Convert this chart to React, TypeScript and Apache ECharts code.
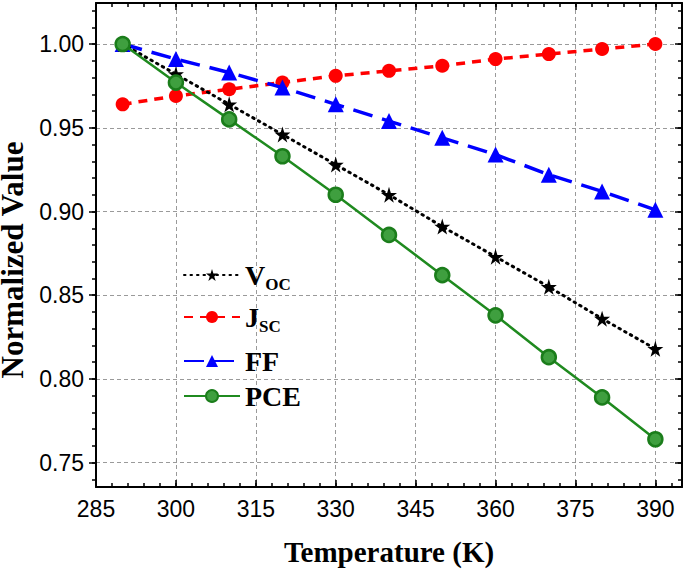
import React, { useEffect, useRef } from "react";
import * as echarts from "echarts";

const temperatures = [290, 300, 310, 320, 330, 340, 350, 360, 370, 380, 390];
const vocValues = [1.0, 0.982, 0.964, 0.946, 0.928, 0.91, 0.891, 0.873, 0.855, 0.836, 0.818];
const jscValues = [0.964, 0.969, 0.973, 0.977, 0.981, 0.984, 0.987, 0.991, 0.994, 0.997, 1.0];
const ffValues = [1.0, 0.991, 0.983, 0.974, 0.964, 0.954, 0.944, 0.934, 0.922, 0.912, 0.901];
const pceValues = [1.0, 0.977, 0.955, 0.933, 0.91, 0.886, 0.862, 0.838, 0.813, 0.789, 0.764];

const xMajorTicks = [285, 300, 315, 330, 345, 360, 375, 390];
const xMinorTicks = [285, 288, 291, 294, 297, 300, 303, 306, 309, 312, 315, 318, 321, 324, 327, 330, 333, 336, 339, 342, 345, 348, 351, 354, 357, 360, 363, 366, 369, 372, 375, 378, 381, 384, 387, 390, 393];
const yMajorTicks = [0.75, 0.8, 0.85, 0.9, 0.95, 1.0];
const yMinorTicks = [0.74, 0.75, 0.76, 0.77, 0.78, 0.79, 0.8, 0.81, 0.82, 0.83, 0.84, 0.85, 0.86, 0.87, 0.88, 0.89, 0.9, 0.91, 0.92, 0.93, 0.94, 0.95, 0.96, 0.97, 0.98, 0.99, 1.0, 1.01, 1.02];

const X_MIN = 285;
const X_MAX = 395;
const Y_MIN = 0.7355;
const Y_MAX = 1.0245;

const STAR = "path://M50,0 L61,35 L98,35 L68,57 L79,91 L50,70 L21,91 L32,57 L2,35 L39,35 Z";
const SERIF = "'Liberation Serif', 'Times New Roman', serif";
const SANS = "'Liberation Sans', Arial, sans-serif";

function toPairs(vals: number[]) {
  return temperatures.map((t, i) => [t, vals[i]]);
}

export default function App() {
  const ref = useRef<HTMLDivElement>(null);
  useEffect(() => {
    if (!ref.current) return;
    const chart = echarts.init(ref.current, null, { renderer: "svg" });

    const richText = {
      m: { fontSize: 28, fontWeight: "bold", fontFamily: SERIF, color: "#000" },
      s: { fontSize: 17, fontWeight: "bold", fontFamily: SERIF, color: "#000", padding: [18, 0, 0, 0] },
    };

    const mkLegend = (name: string, top: number, formatter?: string) => ({
      data: [name],
      left: 178,
      top,
      orient: "vertical",
      itemWidth: 56,
      itemHeight: 15,
      selectedMode: false,
      formatter: formatter,
      textStyle: { fontSize: 28, fontWeight: "bold", fontFamily: SERIF, color: "#000", rich: richText },
    });

    const axisCommonX = { type: "value", min: X_MIN, max: X_MAX, gridIndex: 0 };
    const axisCommonY = { type: "value", min: Y_MIN, max: Y_MAX, gridIndex: 0 };
    const lineBlack = { show: true, lineStyle: { color: "#000", width: 2 } };

    const option: any = {
      animation: false,
      backgroundColor: "#fff",
      grid: { left: 96, right: 3, top: 3, bottom: 85, containLabel: false, outerBoundsMode: "none" },
      legend: [
        mkLegend("VOC", 256, "{m|V}{s|OC}"),
        mkLegend("JSC", 298, "{m|J}{s|SC}"),
        mkLegend("FF", 342),
        mkLegend("PCE", 377),
      ],
      xAxis: [
        {
          ...axisCommonX,
          position: "bottom",
          name: "Temperature (K)",
          nameLocation: "middle",
          nameGap: 50,
          nameTextStyle: { fontSize: 29, fontWeight: "bold", fontFamily: SERIF, color: "#000" },
          axisLine: lineBlack,
          axisTick: { show: true, inside: true, length: 7, customValues: xMajorTicks, lineStyle: { color: "#000", width: 1.5 } },
          axisLabel: { customValues: xMajorTicks, fontSize: 23, fontFamily: SANS, color: "#000", margin: 10 },
          splitLine: { show: true, lineStyle: { color: "#9a9a9a", type: [4, 3], width: 1 } },
        },
        {
          ...axisCommonX,
          position: "bottom",
          axisLine: { show: false },
          axisTick: { show: true, inside: true, length: 4, customValues: xMinorTicks, lineStyle: { color: "#000", width: 1.5 } },
          axisLabel: { show: false },
          splitLine: { show: false },
        },
        {
          ...axisCommonX,
          position: "top",
          axisLine: lineBlack,
          axisTick: { show: true, inside: true, length: 7, customValues: xMajorTicks, lineStyle: { color: "#000", width: 1.5 } },
          axisLabel: { show: false },
          splitLine: { show: false },
        },
        {
          ...axisCommonX,
          position: "top",
          axisLine: { show: false },
          axisTick: { show: true, inside: true, length: 4, customValues: xMinorTicks, lineStyle: { color: "#000", width: 1.5 } },
          axisLabel: { show: false },
          splitLine: { show: false },
        },
      ],
      yAxis: [
        {
          ...axisCommonY,
          position: "left",
          name: "Normalized Value",
          nameLocation: "middle",
          nameRotate: 90,
          nameGap: 64,
          nameTextStyle: { fontSize: 31, fontWeight: "bold", fontFamily: SERIF, color: "#000", padding: [0, 30, 0, 0] },
          axisLine: lineBlack,
          axisTick: { show: true, inside: false, length: 7, customValues: yMajorTicks, lineStyle: { color: "#000", width: 1.5 } },
          axisLabel: {
            customValues: yMajorTicks,
            fontSize: 23,
            fontFamily: SANS,
            color: "#000",
            margin: 12,
            formatter: (v: number) => v.toFixed(2),
          },
          splitLine: { show: true, lineStyle: { color: "#9a9a9a", type: [4, 3], width: 1 } },
        },
        {
          ...axisCommonY,
          position: "left",
          axisLine: { show: false },
          axisTick: { show: true, inside: false, length: 4, customValues: yMinorTicks, lineStyle: { color: "#000", width: 1.5 } },
          axisLabel: { show: false },
          splitLine: { show: false },
        },
        {
          ...axisCommonY,
          position: "right",
          axisLine: lineBlack,
          axisTick: { show: true, inside: true, length: 7, customValues: yMajorTicks, lineStyle: { color: "#000", width: 1.5 } },
          axisLabel: { show: false },
          splitLine: { show: false },
        },
        {
          ...axisCommonY,
          position: "right",
          axisLine: { show: false },
          axisTick: { show: true, inside: true, length: 4, customValues: yMinorTicks, lineStyle: { color: "#000", width: 1.5 } },
          axisLabel: { show: false },
          splitLine: { show: false },
        },
      ],
      series: [
        {
          name: "JSC",
          type: "line",
          data: toPairs(jscValues),
          symbol: "circle",
          symbolSize: 14,
          itemStyle: { color: "#ff0000" },
          lineStyle: { color: "#ff0000", width: 3.5, type: [9, 7] },
          z: 2,
        },
        {
          name: "FF",
          type: "line",
          data: toPairs(ffValues),
          symbol: "triangle",
          symbolSize: 16,
          itemStyle: { color: "#0000ff" },
          lineStyle: { color: "#0000ff", width: 3.5, type: [20, 10] },
          z: 3,
        },
        {
          name: "VOC",
          type: "line",
          data: toPairs(vocValues),
          symbol: STAR,
          symbolSize: 16,
          itemStyle: { color: "#000" },
          lineStyle: { color: "#000", width: 3, type: [1.5, 5], cap: "round" },
          z: 4,
        },
        {
          name: "PCE",
          type: "line",
          data: toPairs(pceValues),
          symbol: "circle",
          symbolSize: 14,
          itemStyle: { color: "#3f9f3f", borderColor: "#1b7d1b", borderWidth: 2.5 },
          lineStyle: { color: "#1f8a1f", width: 2.5 },
          z: 5,
        },
      ],
    };

    chart.setOption(option);
    return () => chart.dispose();
  }, []);

  return (
    <div
      ref={ref}
      style={{ position: "fixed", left: 0, top: 0, width: 685, height: 572, background: "#fff" }}
    />
  );
}
